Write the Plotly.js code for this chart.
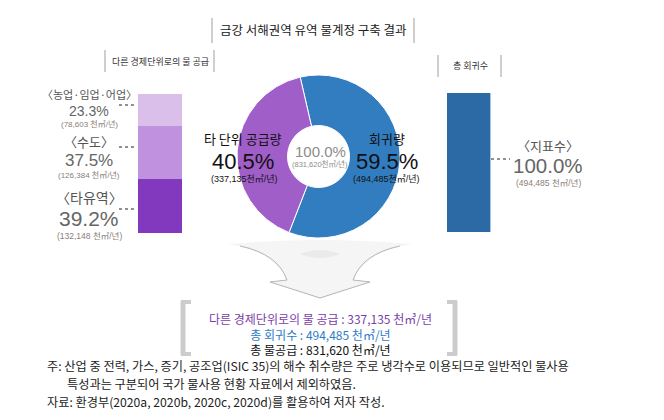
<!DOCTYPE html>
<html>
<head>
<meta charset="utf-8">
<script src="https://cdn.plot.ly/plotly-3.0.1.min.js"></script>
<style>html,body{margin:0;padding:0;background:#fff;}#chart{width:664px;height:420px;}</style>
</head>
<body>
<div id="chart"></div>
<script>
// ---- data ----
const supplyCats = ['타유역', '수도', '농업·임업·어업'];
const supplyPct = [39.2, 37.5, 23.3];
const supplyVol = ['132,148', '126,384', '78,603'];
const donutCats = ['회귀량', '타 단위 공급량'];
const donutPct = [59.5, 40.5];
const donutVol = ['494,485', '337,135'];
const returnCats = ['지표수'];
const returnPct = [100.0];
const returnVol = ['494,485'];
const totalPct = '100.0%';
const totalVol = '831,620';
const noteLines = [
  '주: 산업 중 전력, 가스, 증기, 공조업(ISIC 35)의 해수 취수량은 주로 냉각수로 이용되므로 일반적인 물사용',
  '특성과는 구분되어 국가 물사용 현황 자료에서 제외하였음.',
  '자료: 환경부(2020a, 2020b, 2020c, 2020d)를 활용하여 저자 작성.'
];

const W = 664, H = 420;
const px = x => x / W;
const py = y => 1 - y / H;
const FONT = '"Noto Sans CJK KR", "Noto Sans", sans-serif';
const ARIAL = '"Liberation Sans", Arial, "Noto Sans CJK KR", sans-serif';

const supplyColors = ['#8239be', '#bf91de', '#d9bfea'];
const donutColors = ['#317dc0', '#a05ec9'];
const returnColor = '#2b6aa5';

const traces = [];
supplyCats.forEach((c, i) => {
  traces.push({
    type: 'bar', x: ['s'], y: [supplyPct[i]], name: c,
    marker: {color: supplyColors[i], line: {width: 0}},
    width: 1, xaxis: 'x', yaxis: 'y', hoverinfo: 'none', showlegend: false
  });
});
traces.push({
  type: 'bar', x: ['r'], y: returnPct, name: returnCats[0],
  marker: {color: returnColor, line: {width: 0}},
  width: 1, xaxis: 'x2', yaxis: 'y2', hoverinfo: 'none', showlegend: false
});
traces.push({
  type: 'pie', labels: donutCats, values: donutPct, hole: 0.38,
  sort: false, direction: 'clockwise', rotation: -13,
  marker: {colors: donutColors, line: {color: '#ffffff', width: 1}},
  textinfo: 'none', hoverinfo: 'none', showlegend: false,
  domain: {x: [px(237), px(400)], y: [py(238), py(75)]}
});

function ann(x, y, text, size, color, extra, family) {
  return Object.assign({
    x: px(x), y: py(y), xref: 'paper', yref: 'paper', text: text,
    showarrow: false, xanchor: 'center', yanchor: 'middle',
    borderpad: 0, borderwidth: 0,
    font: {family: family || FONT, size: size, color: color}
  }, extra || {});
}
function sp(text, color) {
  return '<span style="color:' + color + '">' + text + '</span>';
}

const unit = ' 천㎥/년';
const NAME = '#555', PCT = '#666', VOL = '#8a8079';
const annotations = [
  ann(313, 30, '금강 서해권역 유역 물계정 구축 결과', 12.5, '#222'),
  ann(160, 61, '다른 경제단위로의 물 공급', 9, '#333'),
  ann(470, 65, '총 회귀수', 9, '#333'),
  // left labels
  ann(89, 94.5, '〈' + supplyCats[2] + '〉', 11, NAME),
  ann(89, 111, supplyPct[2].toFixed(1) + '%', 14, PCT, null, ARIAL),
  ann(89, 124.3, '(' + supplyVol[2] + unit + ')', 8, VOL, null, ARIAL),
  ann(89, 141.5, '〈' + supplyCats[1] + '〉', 13, NAME),
  ann(89, 160.5, supplyPct[1].toFixed(1) + '%', 17, PCT, null, ARIAL),
  ann(89, 175, '(' + supplyVol[1] + unit + ')', 8, VOL, null, ARIAL),
  ann(89, 197, '〈' + supplyCats[0] + '〉', 14, NAME),
  ann(89, 218.5, supplyPct[0].toFixed(1) + '%', 21, PCT, null, ARIAL),
  ann(89, 236, '(' + supplyVol[0] + unit + ')', 8.5, VOL, null, ARIAL),
  // donut labels
  ann(243, 139, donutCats[1], 13, '#111'),
  ann(243, 161, donutPct[1].toFixed(1) + '%', 22, '#111', null, ARIAL),
  ann(244, 179, '(' + donutVol[1] + '천㎥/년)', 9, '#111', null, ARIAL),
  ann(387, 139, donutCats[0], 13, '#111'),
  ann(387, 161, donutPct[0].toFixed(1) + '%', 22, '#111', null, ARIAL),
  ann(386, 179, '(' + donutVol[0] + '천㎥/년)', 9, '#111', null, ARIAL),
  ann(320, 151, totalPct, 15, '#8c8c8c', null, ARIAL),
  ann(320, 164.3, '(' + totalVol + '천㎥/년)', 7.5, '#8c8c8c', null, ARIAL),
  // right labels
  ann(548, 145, '〈' + returnCats[0] + '〉', 13, NAME),
  ann(548, 166, returnPct[0].toFixed(1) + '%', 20.5, PCT, null, ARIAL),
  ann(548, 182.6, '(' + returnVol[0] + unit + ')', 8.5, VOL, null, ARIAL),
  // summary (one block, three coloured lines)
  ann(320, 334, sp('다른 경제단위로의 물 공급 : ' + donutVol[1] + ' 천㎥/년', '#7a3fa8') + '<br>' +
                sp('총 회귀수 : ' + donutVol[0] + ' 천㎥/년', '#2e7cc4') + '<br>' +
                sp('총 물공급 : ' + totalVol + ' 천㎥/년', '#111'), 12, '#111', {align: 'center'}),
  // notes
  ann(47, 366.2, noteLines[0], 12.2, '#222', {xanchor: 'left'}),
  ann(67, 384, noteLines[1], 12.2, '#222', {xanchor: 'left'}),
  ann(47, 401.8, noteLines[2], 12.2, '#222', {xanchor: 'left'})
];

function vline(x, y0, y1, color, width) {
  return {type: 'line', xref: 'paper', yref: 'paper', x0: px(x), x1: px(x), y0: py(y0), y1: py(y1), line: {color: color, width: width}};
}
function hline(x0, x1, y, color, width, dash) {
  return {type: 'line', xref: 'paper', yref: 'paper', x0: px(x0), x1: px(x1), y0: py(y), y1: py(y), line: {color: color, width: width, dash: dash || 'solid'}};
}
function pathPx(d, fill, lineColor, lw) {
  const conv = d.replace(/(-?\d+\.?\d*),(-?\d+\.?\d*)/g, (m, a, b) => px(+a).toFixed(5) + ',' + py(+b).toFixed(5));
  return {type: 'path', xref: 'paper', yref: 'paper', path: conv, fillcolor: fill, line: {color: lineColor, width: lw}, layer: 'below'};
}

const shapes = [
  vline(212, 18, 43, '#cfcfcf', 2), vline(414, 18, 43, '#cfcfcf', 2),
  vline(105, 50, 72, '#cfcfcf', 2), vline(214, 50, 72, '#cfcfcf', 2),
  vline(438, 55, 77, '#cfcfcf', 2), vline(501, 55, 77, '#cfcfcf', 2),
  // leaders
  hline(119, 137, 105, '#222', 1, 'dot'),
  hline(119, 137, 147, '#222', 1, 'dot'),
  hline(119, 137, 209, '#222', 1, 'dot'),
  hline(491, 510, 159, '#222', 1, 'dot'),
  vline(490.5, 93, 232, '#a8c6e4', 1),
  // arrow: fill, soft shading, then outline
  pathPx('M 228,244 Q 275,252 287,280 L 270,282 L 320,298 L 370,282 L 353,280 Q 365,252 412,244 Q 320,236 228,244 Z', 'rgba(245,245,245,1)', 'rgba(0,0,0,0)', 0),
  pathPx('M 300,254 Q 320,246 340,254 Q 320,262 300,254 Z', 'rgba(234,234,234,1)', 'rgba(0,0,0,0)', 0),
  pathPx('M 240,246 Q 278,254 287,280 L 270,282 L 320,298 L 370,282 L 353,280 Q 362,254 400,246', 'rgba(0,0,0,0)', '#b5b5b5', 1),
  // bottom brackets
  vline(183, 301, 355, '#cccccc', 5), hline(181, 191, 302, '#cccccc', 4), hline(181, 191, 354, '#cccccc', 4),
  vline(455, 301, 355, '#cccccc', 5), hline(447, 457, 302, '#cccccc', 4), hline(447, 457, 354, '#cccccc', 4)
];

const layout = {
  width: W, height: H,
  margin: {l: 0, r: 0, t: 0, b: 0},
  paper_bgcolor: '#ffffff', plot_bgcolor: 'rgba(0,0,0,0)',
  barmode: 'stack', bargap: 0, showlegend: false,
  font: {family: FONT},
  xaxis: {domain: [px(138), px(182)], anchor: 'y', visible: false, fixedrange: true},
  yaxis: {domain: [py(233), py(94)], anchor: 'x', range: [0, 100], visible: false, fixedrange: true},
  xaxis2: {domain: [px(447), px(490)], anchor: 'y2', visible: false, fixedrange: true},
  yaxis2: {domain: [py(232), py(93)], anchor: 'x2', range: [0, 100], visible: false, fixedrange: true},
  annotations: annotations,
  shapes: shapes
};

Plotly.newPlot('chart', traces, layout, {staticPlot: true, displayModeBar: false});
</script>
</body>
</html>
